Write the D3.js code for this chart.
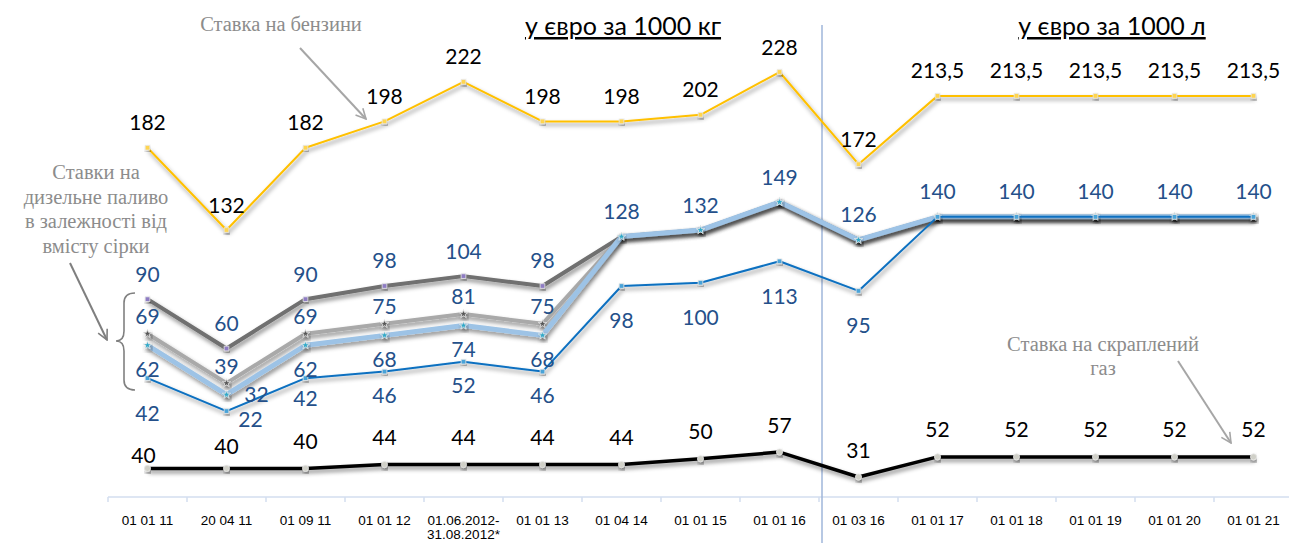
<!doctype html>
<html>
  <head>
    <meta charset="utf-8">
    <script src="https://d3js.org/d3.v7.min.js"></script>
    <style>
      body { margin: 0; background: #fff; }
      .val { font-family: Lato, "Open Sans", sans-serif; font-size: 21px; text-anchor: middle; }
      .note { font-family: "Liberation Serif", "DejaVu Serif", serif; font-size: 20.5px; fill: #8c8c8c; text-anchor: middle; }
      .tick-lbl { font-family: "Liberation Sans Narrow", "Liberation Sans", sans-serif; font-size: 13.5px; text-anchor: middle; fill: #000; }
      .unit { font-family: Lato, "Open Sans", sans-serif; font-size: 25px; text-anchor: middle; text-decoration: underline; }
    </style>
  </head>
  <body>
    <svg id="chart" width="1289" height="543"></svg>
  <script>
    // categories (dates of rate changes)
    var dates = ["01 01 11", "20 04 11", "01 09 11", "01 01 12", "01.06.2012-|31.08.2012*",
                 "01 01 13", "01 04 14", "01 01 15", "01 01 16", "01 03 16",
                 "01 01 17", "01 01 18", "01 01 19", "01 01 20", "01 01 21"];

    // gasoline rate
    var petrol = [182, 132, 182, 198, 222, 198, 198, 202, 228, 172, 213.5, 213.5, 213.5, 213.5, 213.5];
    // diesel rates by sulfur content (highest to lowest)
    var dieselHigh = [90, 60, 90, 98, 104, 98, 128, 132, 149, 126, 140, 140, 140, 140, 140];
    var dieselMid  = [69, 39, 69, 75, 81, 75, 128, 132, 149, 126, 140, 140, 140, 140, 140];
    var dieselLow  = [62, 32, 62, 68, 74, 68, 128, 132, 149, 126, 140, 140, 140, 140, 140];
    var dieselMin  = [42, 22, 42, 46, 52, 46, 98, 100, 113, 95, 140, 140, 140, 140, 140];
    // liquefied gas rate
    var lpg = [40, 40, 40, 44, 44, 44, 44, 50, 57, 31, 52, 52, 52, 52, 52];

    var svg = d3.select("#chart");

    var x = d3.scaleBand().domain(dates).range([108, 1293]);
    var y = d3.scaleLinear().domain([0, 250]).range([447.3, 35.8]);
    var y2 = d3.scaleLinear().domain([0, 60]).range([506.8, 449.2]);
    var cx = function(i) { return x(dates[i]) + x.bandwidth() / 2; };

    var fmt = function(v) { return String(v).replace(".", ","); };

    /* shadow + arrow defs */
    var defs = svg.append("defs");
    var f = defs.append("filter").attr("id", "shadow")
      .attr("x", "-5%").attr("y", "-20%").attr("width", "110%").attr("height", "160%");
    f.append("feDropShadow").attr("dx", 1.5).attr("dy", 3).attr("stdDeviation", 2)
      .attr("flood-color", "#000").attr("flood-opacity", 0.45);

    ["a6a6a6", "7f7f7f"].forEach(function(c) {
      defs.append("marker").attr("id", "arr" + c)
        .attr("viewBox", "0 0 12 12").attr("refX", 11).attr("refY", 6)
        .attr("markerWidth", 12).attr("markerHeight", 12).attr("markerUnits", "userSpaceOnUse")
        .attr("orient", "auto")
        .append("path").attr("d", "M1,1 L11,6 L1,11")
        .attr("fill", "none").attr("stroke", "#" + c).attr("stroke-width", 1.6);
    });

    /* x axis */
    var axisY = 497;
    svg.append("line").attr("x1", 108).attr("x2", 1289).attr("y1", axisY).attr("y2", axisY)
      .attr("stroke", "#d3deef").attr("stroke-width", 1.5);
    svg.selectAll("line.tk").data(dates).enter().append("line").attr("class", "tk")
      .attr("x1", function(d) { return x(d); }).attr("x2", function(d) { return x(d); })
      .attr("y1", axisY).attr("y2", axisY + 5)
      .attr("stroke", "#d3deef").attr("stroke-width", 1.5);
    var tl = svg.selectAll("text.tick-lbl").data(dates).enter().append("text").attr("class", "tick-lbl")
      .attr("x", function(d) { return x(d) + x.bandwidth() / 2; })
      .attr("y", 525);
    tl.each(function(d) {
      var parts = d.split("|");
      var t = d3.select(this);
      parts.forEach(function(p, k) {
        t.append("tspan").attr("x", t.attr("x")).attr("dy", k === 0 ? 0 : 14).text(p);
      });
    });

    /* separator between kg and litre periods */
    var sepX = x(dates[9]) + 3;
    svg.append("line").attr("x1", sepX).attr("x2", sepX).attr("y1", 25).attr("y2", 543)
      .attr("stroke", "#9fb6da").attr("stroke-width", 1.5);

    svg.append("text").attr("class", "unit").attr("x", 623).attr("y", 35).text("у євро за 1000 кг");
    svg.append("text").attr("class", "unit").attr("x", 1112).attr("y", 35).text("у євро за 1000 л");

    /* series */
    var series = [
      { vals: dieselHigh, sc: y, color: "#6f6f6f", w: 4, mk: "#8e7cc3", sym: d3.symbolSquare },
      { vals: dieselMid,  sc: y, color: "#a9a9a9", w: 4, mk: "#595959", sym: d3.symbolStar },
      { vals: dieselLow,  sc: y, color: "#9dc3e6", w: 5, mk: "#31a9c9", sym: d3.symbolStar },
      { vals: dieselMin,  sc: y, color: "#0a70c0", w: 2, mk: "#4aa3d8", sym: d3.symbolSquare },
      { vals: petrol,     sc: y, color: "#ffc000", w: 2, mk: "#ffd54f", sym: d3.symbolSquare },
      { vals: lpg,        sc: y2, color: "#000000", w: 3.5, mk: "#d0d0c8", sym: d3.symbolCircle }
    ];

    series.forEach(function(s) {
      var line = d3.line().x(function(d, i) { return cx(i); }).y(function(d) { return s.sc(d); });
      svg.append("path").datum(s.vals).attr("d", line)
        .attr("fill", "none").attr("stroke", s.color).attr("stroke-width", s.w)
        .attr("stroke-linejoin", "round").attr("filter", "url(#shadow)");
      svg.selectAll(null).data(s.vals).enter().append("path")
        .attr("d", d3.symbol().type(s.sym).size(s.sym === d3.symbolCircle ? 30 : 22))
        .attr("transform", function(d, i) { return "translate(" + cx(i) + "," + s.sc(d) + ")"; })
        .attr("fill", s.mk).attr("stroke", "#e8e8e8").attr("stroke-width", 0.8)
        .attr("filter", "url(#shadow)");
    });

    /* value labels */
    function labels(vals, sc, color, show, off) {
      svg.selectAll(null).data(vals.map(function(v, i) { return { v: v, i: i }; })
          .filter(function(d) { return show(d.i); }))
        .enter().append("text").attr("class", "val")
        .attr("fill", color)
        .attr("x", function(d) { return cx(d.i) + off(d.i)[0]; })
        .attr("y", function(d) { return sc(d.v) + off(d.i)[1] + 7.5; })
        .text(function(d) { return fmt(d.v); });
    }
    var blueTxt = "#24508a";
    labels(petrol, y, "#000", function() { return true; }, function() { return [0, -25]; });
    labels(dieselHigh, y, blueTxt, function() { return true; }, function() { return [0, -25]; });
    labels(dieselMid, y, blueTxt, function(i) { return i < 6; }, function() { return [0, -17]; });
    labels(dieselLow, y, blueTxt, function(i) { return i < 6; },
      function(i) { return i === 1 ? [30, 0] : [0, 24]; });
    labels(dieselMin, y, blueTxt, function(i) { return i < 10; },
      function(i) { return i === 1 ? [24, 8] : (i === 2 ? [0, 20] : (i > 5 || i === 0 ? [0, 35] : [0, 24])); });
    labels(lpg, y2, "#000", function() { return true; },
      function(i) { return i === 0 ? [-4, -13] : (i === 1 ? [0, -22] : [0, -27]); });

    /* annotations */
    svg.append("text").attr("class", "note").attr("x", 281).attr("y", 31).text("Ставка на бензини");
    svg.append("line").attr("x1", 300).attr("y1", 48).attr("x2", 366).attr("y2", 119)
      .attr("stroke", "#a6a6a6").attr("stroke-width", 2).attr("marker-end", "url(#arra6a6a6)");

    var dz = svg.append("text").attr("class", "note").attr("x", 96).attr("y", 179);
    ["Ставки на", "дизельне паливо", "в залежності  від", "вмісту сірки"].forEach(function(t, k) {
      dz.append("tspan").attr("x", 96).attr("dy", k === 0 ? 0 : 24.5).text(t);
    });
    svg.append("line").attr("x1", 70).attr("y1", 263).attr("x2", 107).attr("y2", 340)
      .attr("stroke", "#7f7f7f").attr("stroke-width", 2).attr("marker-end", "url(#arr7f7f7f)");
    svg.append("path")
      .attr("d", "M135,293 Q124,293 124,303 L124,331 Q124,341 116,341 Q124,341 124,351 L124,380 Q124,390 135,390")
      .attr("fill", "none").attr("stroke", "#808080").attr("stroke-width", 1.6);

    var gz = svg.append("text").attr("class", "note").attr("x", 1103).attr("y", 351);
    gz.append("tspan").attr("x", 1103).text("Ставка на скраплений");
    gz.append("tspan").attr("x", 1103).attr("dy", 24).text("газ");
    svg.append("line").attr("x1", 1178).attr("y1", 361).attr("x2", 1231).attr("y2", 443)
      .attr("stroke", "#a6a6a6").attr("stroke-width", 2).attr("marker-end", "url(#arra6a6a6)");
  </script>
  </body>
</html>
